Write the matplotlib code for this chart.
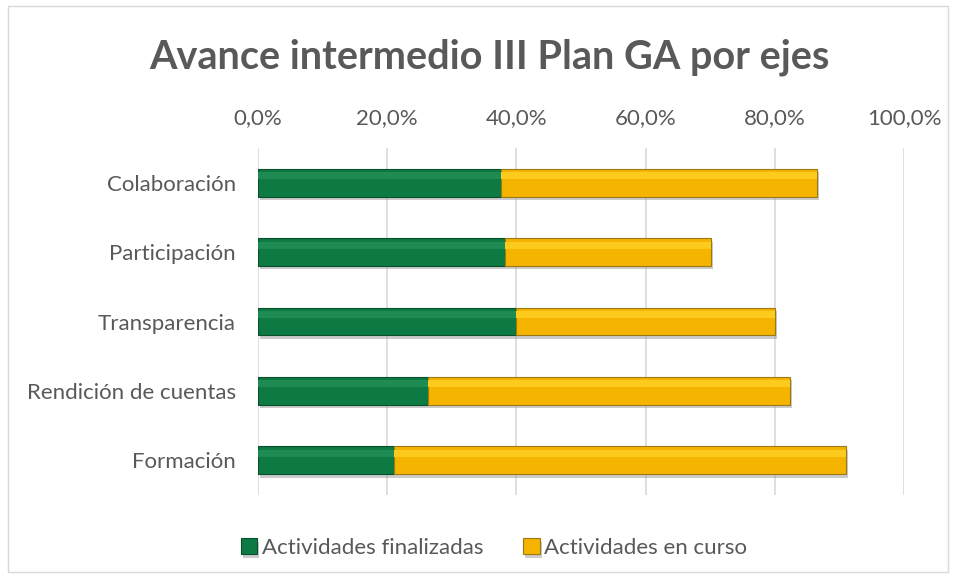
import matplotlib
matplotlib.use("Agg")
import matplotlib.pyplot as plt
from matplotlib.patches import Rectangle
import matplotlib.patheffects as pe

plt.rcParams['font.family'] = ['Lato', 'DejaVu Sans']

categories = ["Colaboración", "Participación", "Transparencia", "Rendición de cuentas", "Formación"]
finalizadas = [0.376, 0.382, 0.399, 0.263, 0.211]
en_curso = [0.489, 0.319, 0.401, 0.561, 0.699]
tick_vals = [0.0, 0.2, 0.4, 0.6, 0.8, 1.0]
tick_labels = ["0,0%", "20,0%", "40,0%", "60,0%", "80,0%", "100,0%"]
series_names = ["Actividades finalizadas", "Actividades en curso"]

green = "#0E7A43"
green_edge = "#0A4F2C"
yellow = "#F4B400"
yellow_edge = "#9C7A12"
text_col = "#595959"

fig = plt.figure(figsize=(9.54, 5.78), dpi=100)
fig.patch.set_facecolor("white")
fig.patches.append(Rectangle((8/954, 6/578), 940/954, 566/578, transform=fig.transFigure,
                             fill=False, edgecolor="#D9D9D9", linewidth=1))

ax = fig.add_axes([258/954, (578-495)/578, (904-258)/954, (495-148)/578])
y = list(range(len(categories)))
shadow = [pe.SimplePatchShadow(offset=(1.5, -2.5), shadow_rgbFace="#999999", alpha=0.5), pe.Normal()]
b1 = ax.barh(y, finalizadas, height=0.4, color=green, edgecolor=green_edge, linewidth=0.8,
             label=series_names[0], zorder=3, path_effects=shadow)
b2 = ax.barh(y, en_curso, left=finalizadas, height=0.4, color=yellow, edgecolor=yellow_edge,
             linewidth=0.8, label=series_names[1], zorder=3, path_effects=shadow)
# subtle highlight strips (bevel look)
ax.barh([v - 0.1 for v in y], finalizadas, height=0.1, color="#1E8C52", linewidth=0, zorder=4)
ax.barh([v - 0.1 for v in y], en_curso, left=finalizadas, height=0.1, color="#FCCB1E", linewidth=0, zorder=4)

ax.set_xlim(0, 1.0)
ax.set_ylim(len(categories) - 0.5, -0.5)
ax.set_yticks(y)
ax.set_yticklabels(categories, fontsize=16, color=text_col)
ax.set_xticks(tick_vals)
ax.set_xticklabels(tick_labels, fontsize=16, color=text_col)
ax.xaxis.tick_top()
ax.tick_params(axis='both', length=0)
ax.tick_params(axis='x', pad=14)
ax.tick_params(axis='y', pad=16)
ax.grid(axis='x', color="#D9D9D9", linewidth=1.2, zorder=0)
for s in ax.spines.values():
    s.set_visible(False)

fig.text(489/954, 1 - 57/578, "Avance intermedio III Plan GA por ejes", ha="center", va="center",
         fontsize=28.5, fontweight="bold", color=text_col)

fig.legend([b1, b2], series_names, loc="center", bbox_to_anchor=(494/954, 1 - 548/578), ncol=2,
           frameon=False, fontsize=16, labelcolor=text_col, handlelength=0.75, handleheight=0.75,
           handletextpad=0.2, columnspacing=1.8)

fig.savefig("out.png", dpi=100, facecolor="white")
